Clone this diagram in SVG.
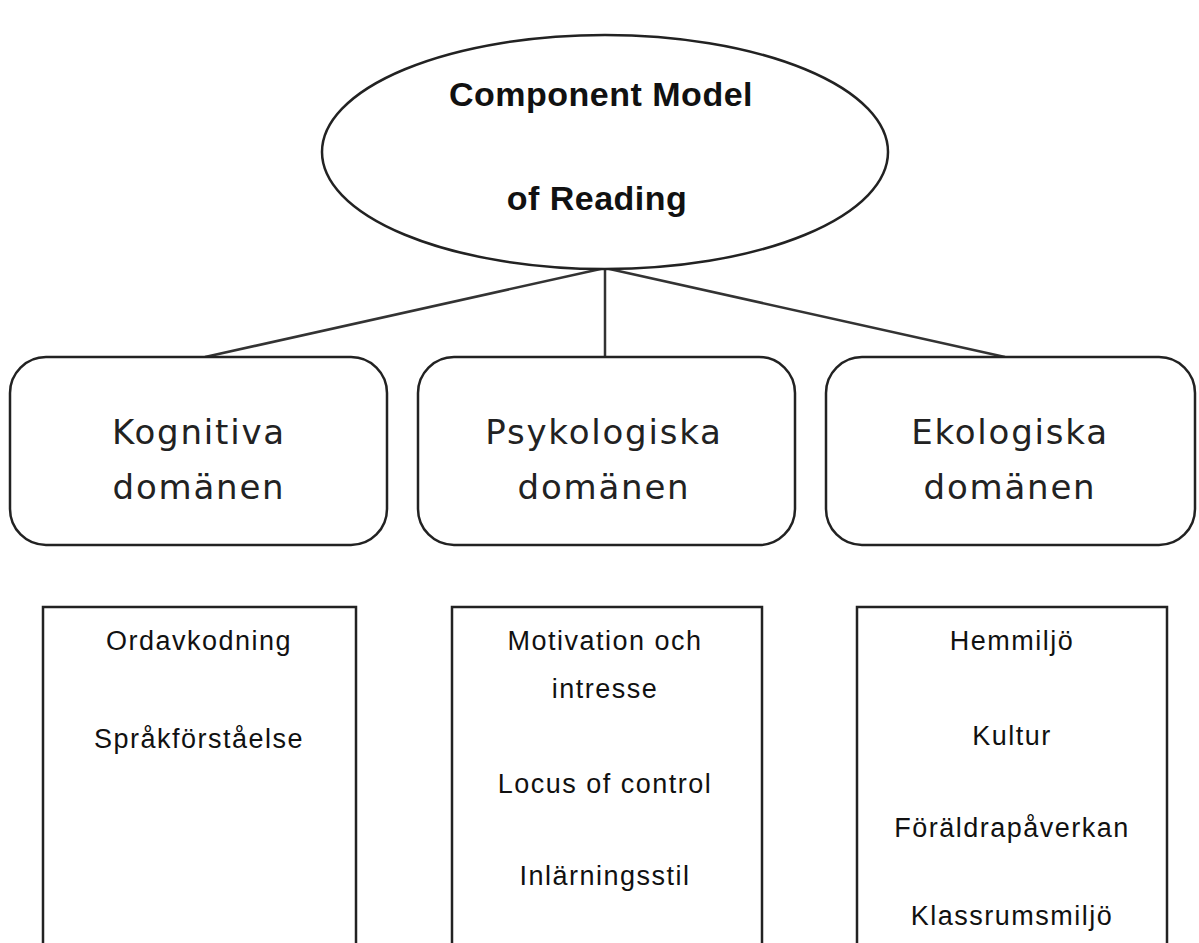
<svg xmlns="http://www.w3.org/2000/svg" width="1199" height="943" viewBox="0 0 1199 943">
<style>
.shape{fill:#fff;stroke:#222;stroke-width:2.5}
.conn line{stroke:#333;stroke-width:2.5}
.title{font-family:"Liberation Sans",Arial,sans-serif;font-weight:bold;font-size:34px;fill:#111;text-anchor:middle;letter-spacing:0.5px}
.dom{font-family:"DejaVu Sans",Verdana,sans-serif;font-size:34px;fill:#222;text-anchor:middle;letter-spacing:1.8px}
.item{font-family:"Liberation Sans",Arial,sans-serif;font-size:27px;fill:#111;text-anchor:middle;letter-spacing:1.5px}
</style>
<rect width="1199" height="943" fill="#fff"/>
<g id="connectors" class="conn">
<line x1="605" y1="268" x2="205" y2="357"/>
<line x1="605" y1="268" x2="605" y2="357"/>
<line x1="605" y1="268" x2="1005" y2="357"/>
</g>
<g id="root">
<ellipse class="shape" cx="605" cy="152" rx="283" ry="117"/>
<text class="title" x="601" y="106">Component Model</text>
<text class="title" x="597" y="210">of Reading</text>
</g>
<g id="kognitiva">
<rect class="shape" x="10" y="357" width="377" height="188" rx="36"/>
<text class="dom" x="199" y="444">Kognitiva</text>
<text class="dom" x="199" y="499">domänen</text>
</g>
<g id="psykologiska">
<rect class="shape" x="418" y="357" width="377" height="188" rx="36"/>
<text class="dom" x="604" y="444">Psykologiska</text>
<text class="dom" x="604" y="499">domänen</text>
</g>
<g id="ekologiska">
<rect class="shape" x="826" y="357" width="369" height="188" rx="36"/>
<text class="dom" x="1010" y="444">Ekologiska</text>
<text class="dom" x="1010" y="499">domänen</text>
</g>
<g id="kognitiva-items">
<rect class="shape" x="43" y="607" width="313" height="360"/>
<text class="item" x="199" y="650">Ordavkodning</text>
<text class="item" x="199" y="748">Språkförståelse</text>
</g>
<g id="psykologiska-items">
<rect class="shape" x="452" y="607" width="310" height="360"/>
<text class="item" x="605" y="650">Motivation och</text>
<text class="item" x="605" y="698">intresse</text>
<text class="item" x="605" y="793">Locus of control</text>
<text class="item" x="605" y="885">Inlärningsstil</text>
</g>
<g id="ekologiska-items">
<rect class="shape" x="857" y="607" width="310" height="360"/>
<text class="item" x="1012" y="650">Hemmiljö</text>
<text class="item" x="1012" y="745">Kultur</text>
<text class="item" x="1012" y="837">Föräldrapåverkan</text>
<text class="item" x="1012" y="925">Klassrumsmiljö</text>
</g>
</svg>
